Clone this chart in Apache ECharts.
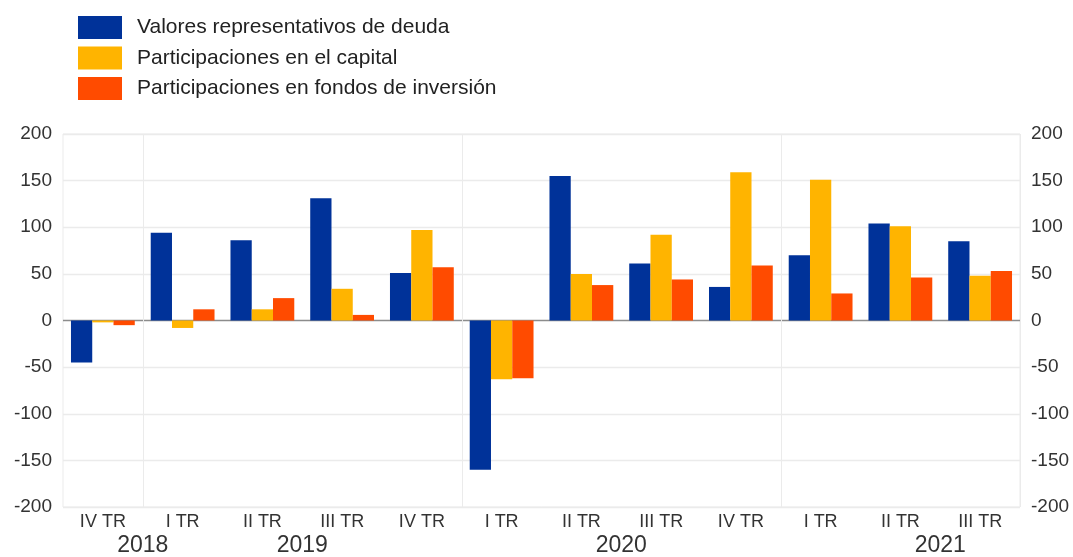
<!DOCTYPE html>
<html>
<head>
<meta charset="utf-8">
<script src="https://cdn.jsdelivr.net/npm/echarts@6/dist/echarts.min.js"></script>
<style>
  html, body { margin: 0; padding: 0; background: #fff; }
  #main { width: 1073px; height: 557px; }
</style>
</head>
<body>
<div id="main"></div>
<script>
// quarters, Oct 2018 - Sep 2021
var quarters = ["IV TR", "I TR", "II TR", "III TR", "IV TR", "I TR", "II TR", "III TR", "IV TR", "I TR", "II TR", "III TR"];
var years = ["2018", "2019", "2020", "2021"];
// where each year label sits, in category units
var yearPos = [0.5, 2.5, 6.5, 10.5];

var deuda = [-45, 94, 86, 131, 51, -160, 155, 61, 36, 70, 104, 85];
var capital = [-2, -8, 12, 34, 97, -63, 50, 92, 159, 151, 101, 48];
var fondos = [-5, 12, 24, 6, 57, -62, 38, 44, 59, 29, 46, 53];

var yTicks = { min: -200, max: 200, interval: 50 };

var font = "Liberation Sans, Arial, sans-serif";
var gridGrey = "#ebebeb";

var chart = echarts.init(document.getElementById("main"));

function bar(name, data, color) {
  return {
    name: name,
    type: "bar",
    data: data,
    barGap: "0%",
    barCategoryGap: "20%",
    itemStyle: { color: color }
  };
}

// one colour per split line, from -200 up; the zero line is darker
var splitColors = [];
for (var v = yTicks.min; v <= yTicks.max; v += yTicks.interval) {
  splitColors.push(v === 0 ? "#8c8c8c" : gridGrey);
}

function yAxis(pos) {
  return {
    type: "value",
    position: pos,
    min: yTicks.min,
    max: yTicks.max,
    interval: yTicks.interval,
    axisLine: { show: false },
    axisTick: { show: false },
    axisLabel: { color: "#333", fontSize: 19, fontFamily: font, margin: 11 },
    splitLine: { show: pos === "left", lineStyle: { color: splitColors, width: 1.3 } }
  };
}

chart.setOption({
  animation: false,
  legend: {
    orient: "vertical",
    left: 73,
    top: 11,
    itemWidth: 44,
    itemHeight: 23,
    itemGap: 7.5,
    icon: "rect",
    textStyle: { fontSize: 21, color: "#222", fontFamily: font, padding: [0, 0, 0, 10] }
  },
  grid: {
    left: 63,
    right: 53,
    top: 134,
    bottom: 50,
    show: true,
    borderColor: gridGrey,
    borderWidth: 1
  },
  xAxis: [
    {
      type: "category",
      data: quarters,
      axisLine: { show: false },
      axisTick: {
        show: true,
        length: 11,
        interval: function (i) { return i === 1 || i === 5 || i === 9; },
        lineStyle: { color: gridGrey }
      },
      axisLabel: { color: "#333", fontSize: 18, fontFamily: font, margin: 6, interval: 0 },
      splitLine: {
        show: true,
        interval: function (i) { return i === 1 || i === 5 || i === 9; },
        lineStyle: { color: gridGrey }
      }
    },
    {
      type: "value",
      position: "bottom",
      min: -0.5,
      max: quarters.length - 0.5,
      axisLine: { show: false },
      axisTick: { show: false },
      splitLine: { show: false },
      axisLabel: {
        customValues: yearPos,
        color: "#333",
        fontSize: 23,
        fontFamily: font,
        margin: 27,
        formatter: function (val) {
          var k = yearPos.indexOf(val);
          return k >= 0 ? years[k] : "";
        }
      }
    }
  ],
  yAxis: [yAxis("left"), yAxis("right")],
  series: [
    bar("Valores representativos de deuda", deuda, "#003299"),
    bar("Participaciones en el capital", capital, "#ffb400"),
    bar("Participaciones en fondos de inversión", fondos, "#ff4b00")
  ]
});
</script>
</body>
</html>
